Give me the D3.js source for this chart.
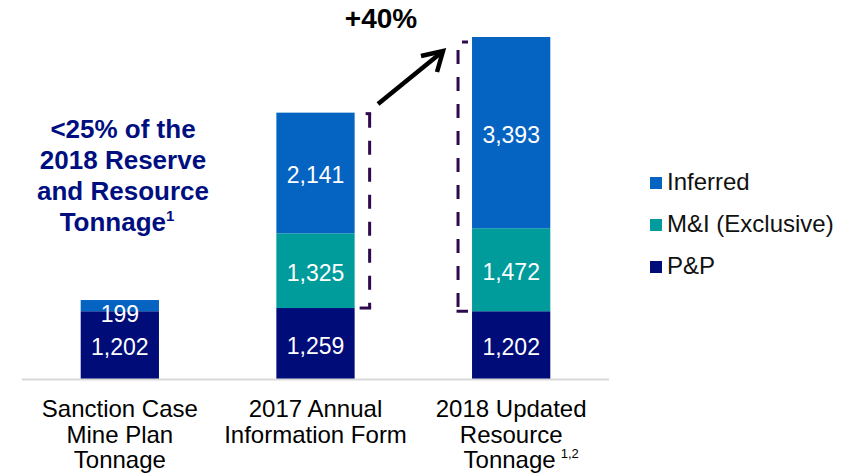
<!DOCTYPE html>
<html>
<head>
<meta charset="utf-8">
<script src="https://cdn.jsdelivr.net/npm/d3@7"></script>
<style>
  body { margin: 0; background: #fff; }
  svg { font-family: Arial, "Liberation Sans", sans-serif; }
</style>
</head>
<body>
<svg id="chart"></svg>
<script>
// chart data
const categories = ["Sanction Case Mine Plan Tonnage", "2017 Annual Information Form", "2018 Updated Resource Tonnage"];
const catLines = [["Sanction Case", "Mine Plan", "Tonnage"], ["2017 Annual", "Information Form"], ["2018 Updated", "Resource", "Tonnage"]];
const seriesNames = ["P&P", "M&I (Exclusive)", "Inferred"];
const ppValues = [1202, 1259, 1202];
const miValues = [0, 1325, 1472];
const infValues = [199, 2141, 3393];
const legendOrder = ["Inferred", "M&I (Exclusive)", "P&P"];
const colors = { "P&P": "#000C78", "M&I (Exclusive)": "#009C9C", "Inferred": "#0563C1" };

const width = 848, height = 475;
const svg = d3.select("#chart").attr("width", width).attr("height", height);

const rows = categories.map((c, i) => ({
  cat: c,
  "P&P": ppValues[i],
  "M&I (Exclusive)": miValues[i],
  "Inferred": infValues[i]
}));
const stacked = d3.stack().keys(seriesNames)(rows);

const x = d3.scaleBand().domain(categories).range([22, 609]).paddingInner(0.6).paddingOuter(0.3);
const maxTotal = d3.max(rows, r => r["P&P"] + r["M&I (Exclusive)"] + r["Inferred"]);
const y = d3.scaleLinear().domain([0, maxTotal]).range([379, 37]);

// bars
const layers = svg.append("g").selectAll("g")
  .data(stacked)
  .join("g")
  .attr("fill", d => colors[d.key]);

layers.selectAll("rect")
  .data(d => d.filter(s => s[1] - s[0] > 0))
  .join("rect")
  .attr("x", d => x(d.data.cat))
  .attr("width", x.bandwidth())
  .attr("y", d => y(d[1]))
  .attr("height", d => y(d[0]) - y(d[1]));

// value labels
layers.selectAll("text")
  .data(d => d.filter(s => s[1] - s[0] > 0))
  .join("text")
  .attr("x", d => x(d.data.cat) + x.bandwidth() / 2)
  .attr("y", d => {
    const h = y(d[0]) - y(d[1]);
    if (h < 25) return y(d[1]) + 22;
    return (y(d[0]) + y(d[1])) / 2 + 10;
  })
  .attr("text-anchor", "middle")
  .attr("fill", "#fff")
  .attr("font-size", 23)
  .text(d => d3.format(",")(d[1] - d[0]));

// axis line
svg.append("line")
  .attr("x1", 22).attr("x2", 609)
  .attr("y1", 379.5).attr("y2", 379.5)
  .attr("stroke", "#D9D9D9").attr("stroke-width", 2);

// category labels
const catG = svg.append("g").selectAll("text")
  .data(categories)
  .join("text")
  .attr("text-anchor", "middle")
  .attr("font-size", 24)
  .attr("fill", "#000");
catG.each(function(c, i) {
  const t = d3.select(this);
  catLines[i].forEach((line, j) => {
    const shift = (i === 2 && j === 2) ? 10 : 0;
    t.append("tspan")
      .attr("x", x(c) + x.bandwidth() / 2 + shift)
      .attr("y", 417 + j * 25.5)
      .text(line);
  });
  if (i === 2) {
    t.append("tspan").attr("font-size", 13).attr("dy", -10).attr("dx", 5).text("1,2");
  }
});

// left annotation
const note = svg.append("text")
  .attr("text-anchor", "middle")
  .attr("font-weight", "bold")
  .attr("font-size", 26)
  .attr("fill", "#000F80");
["<25% of the", "2018 Reserve", "and Resource"].forEach((line, j) => {
  note.append("tspan").attr("x", 123).attr("y", 138 + j * 31).text(line);
});
note.append("tspan").attr("x", 117).attr("y", 138 + 3 * 31).text("Tonnage");
note.append("tspan").attr("font-size", 15).attr("dy", -10).text("1");

// brackets
const c2 = categories[1], c3 = categories[2];
const bracketColor = "#2D0A4E";
const b1x = x(c2) + x.bandwidth() + 15;
const top2 = y(ppValues[1] + miValues[1] + infValues[1]) + 1;
svg.append("line")
  .attr("x1", b1x).attr("x2", b1x)
  .attr("y1", top2)
  .attr("y2", y(ppValues[1]))
  .attr("stroke", bracketColor).attr("stroke-width", 3)
  .attr("stroke-dasharray", "14 13");
svg.append("line")
  .attr("x1", b1x - 10).attr("x2", b1x + 1.5)
  .attr("y1", y(ppValues[1])).attr("y2", y(ppValues[1]))
  .attr("stroke", bracketColor).attr("stroke-width", 3);
svg.append("line")
  .attr("x1", b1x - 4).attr("x2", b1x + 1.5)
  .attr("y1", top2).attr("y2", top2)
  .attr("stroke", bracketColor).attr("stroke-width", 3);

const b2x = x(c3) - 14;
const top3 = y(ppValues[2] + miValues[2] + infValues[2]) + 5;
svg.append("line")
  .attr("x1", b2x).attr("x2", b2x)
  .attr("y1", top3 + 8)
  .attr("y2", y(ppValues[2]))
  .attr("stroke", bracketColor).attr("stroke-width", 3)
  .attr("stroke-dasharray", "14 13");
svg.append("line")
  .attr("x1", b2x + 4).attr("x2", b2x + 10)
  .attr("y1", top3).attr("y2", top3)
  .attr("stroke", bracketColor).attr("stroke-width", 3);
svg.append("line")
  .attr("x1", b2x - 1.5).attr("x2", b2x + 10)
  .attr("y1", y(ppValues[2])).attr("y2", y(ppValues[2]))
  .attr("stroke", bracketColor).attr("stroke-width", 3);

// arrow
svg.append("line")
  .attr("x1", 378).attr("y1", 104)
  .attr("x2", 442).attr("y2", 52)
  .attr("stroke", "#000").attr("stroke-width", 4.5);
svg.append("path")
  .attr("d", "M421,56 L443,51 L437,72")
  .attr("fill", "none").attr("stroke", "#000").attr("stroke-width", 4.5)
  .attr("stroke-linejoin", "miter");

svg.append("text")
  .attr("x", 381).attr("y", 28)
  .attr("text-anchor", "middle")
  .attr("font-weight", "bold")
  .attr("font-size", 28)
  .text("+40%");

// legend
const legend = svg.append("g").selectAll("g")
  .data(legendOrder)
  .join("g")
  .attr("transform", (d, i) => `translate(650, ${177 + i * 42})`);
legend.append("rect")
  .attr("width", 12).attr("height", 12)
  .attr("fill", d => colors[d]);
legend.append("text")
  .attr("x", 17).attr("y", 13)
  .attr("font-size", 24)
  .attr("fill", "#111")
  .text(d => d);
</script>
</body>
</html>
